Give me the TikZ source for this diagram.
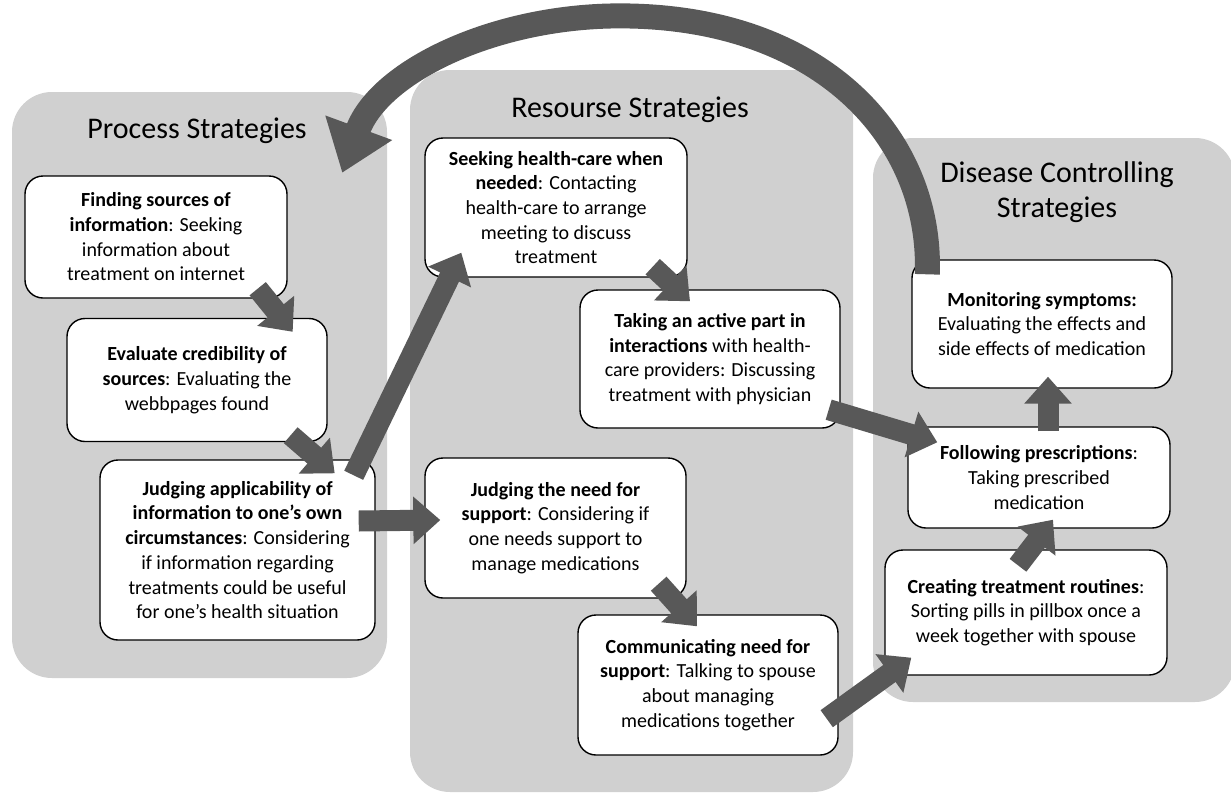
\documentclass[tikz,border=0pt]{standalone}
\usepackage{fontspec}
\setmainfont{Carlito}
\usetikzlibrary{arrows.meta}

\definecolor{panelgray}{RGB}{208,208,208}
\definecolor{arrowgray}{RGB}{88,88,88}

\tikzset{
  panel/.style={fill=panelgray, rounded corners=40pt, inner sep=0pt},
  heading/.style={font=\fontsize{30}{35}\selectfont, align=center},
  box/.style={draw=black, line width=1.4pt, fill=white, rounded corners=18pt,
    align=center, inner sep=0pt, font=\fontsize{20}{24.7}\selectfont},
  flow/.style={draw=arrowgray, line width=21pt, -{Triangle[width=46pt,length=27pt]}},
  bigflow/.style={draw=arrowgray, line width=25pt, -{Triangle[width=68pt,length=48pt]}}
}

\begin{document}
\begin{tikzpicture}[x=1pt, y=-1pt]
    \useasboundingbox (0,0) rectangle (1231,795);

    % Panels
    \node[panel, minimum width=375pt, minimum height=586pt] (proc) at (199.5,385) {};
    \node[panel, minimum width=443pt, minimum height=722pt] (res) at (631.5,431) {};
    \node[panel, minimum width=362pt, minimum height=564pt] (dis) at (1054,420) {};

    % Headings
    \node[heading] (proctitle) at (197,131) {Process Strategies};
    \node[heading] (restitle) at (630,110) {Resourse Strategies};
    \node[heading] (distitle) at (1057,192) {Disease Controlling\\Strategies};

    % Process boxes
    \node[box, minimum width=262pt, minimum height=122pt] (find) at (156,237)
      {\textbf{Finding sources of}\\\textbf{information}: Seeking\\information about\\treatment on internet};
    \node[box, minimum width=260pt, minimum height=123pt] (eval) at (197,380)
      {\textbf{Evaluate credibility of}\\\textbf{sources}: Evaluating the\\webbpages found};
    \node[box, minimum width=275pt, minimum height=180pt] (apply) at (237.5,550)
      {\textbf{Judging applicability of}\\\textbf{information to one’s own}\\\textbf{circumstances}: Considering\\if information regarding\\treatments could be useful\\for one’s health situation};

    % Resource boxes
    \node[box, minimum width=262pt, minimum height=139pt] (seek) at (556,207.5)
      {\textbf{Seeking health-care when}\\\textbf{needed}: Contacting\\health-care to arrange\\meeting to discuss\\treatment};
    \node[box, minimum width=260pt, minimum height=138pt] (active) at (710,359)
      {\textbf{Taking an active part in}\\\textbf{interactions} with health-\\care providers: Discussing\\treatment with physician};
    \node[box, minimum width=261pt, minimum height=140pt] (need) at (555.5,528)
      {\textbf{Judging the need for}\\\textbf{support}: Considering if\\one needs support to\\manage medications};
    \node[box, minimum width=260pt, minimum height=140pt] (comm) at (708,685)
      {\textbf{Communicating need for}\\\textbf{support}: Talking to spouse\\about managing\\medications together};

    % Disease controlling boxes
    \node[box, minimum width=260pt, minimum height=128pt] (mon) at (1042,324)
      {\textbf{Monitoring symptoms:}\\Evaluating the effects and\\side effects of medication};
    \node[box, minimum width=262pt, minimum height=101pt] (follow) at (1039,477.5)
      {\textbf{Following prescriptions}:\\Taking prescribed\\medication};
    \node[box, minimum width=282pt, minimum height=125pt] (routine) at (1026,612.5)
      {\textbf{Creating treatment routines}:\\Sorting pills in pillbox once a\\week together with spouse};

    % Arrows
    \draw[flow] ([shift={(-30,-10)}]find.south east) -- ([shift={(-35,14)}]eval.north east);
    \draw[flow] ([shift={(-37,-7)}]eval.south east) -- ([shift={(-41,14)}]apply.north east);
    \draw[flow] ([shift={(-22,16)}]apply.north east) -- ([shift={(37,-25)}]seek.south west);
    \draw[flow] ([shift={(-17,-29)}]apply.east) -- ([shift={(16,-8)}]need.west);
    \draw[flow] ([shift={(-35,-11)}]seek.south east) -- ([shift={(-20,12)}]active.north);
    \draw[flow] ([shift={(-28,-15)}]need.south east) -- ([shift={(-11,12)}]comm.north);
    \draw[flow] ([shift={(-12,-19)}]active.south east) -- ([shift={(30,16)}]follow.north west);
    \draw[flow] ([shift={(-12,-37)}]comm.south east) -- ([shift={(27,-18)}]routine.south west);
    \draw[flow] ([shift={(-8,16)}]routine.north) -- ([shift={(14,-9)}]follow.south);
    \draw[flow] ([shift={(9,5)}]follow.north) -- ([shift={(6,-12)}]mon.south);

    % Back to the start
    \draw[bigflow] ([shift={(16,15)}]mon.north west) .. controls (932,140) and (825,20) .. (630,16)
      .. controls (500,13) and (380,70) .. ([shift={(-45,81)}]proc.north east);

\end{tikzpicture}
\end{document}
